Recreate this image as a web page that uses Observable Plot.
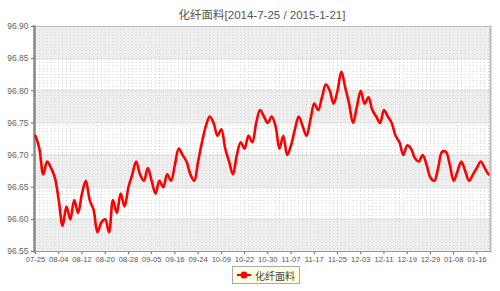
<!DOCTYPE html>
<html>
<head>
<meta charset="utf-8">
<script src="https://cdn.jsdelivr.net/npm/d3@7"></script>
<script src="https://cdn.jsdelivr.net/npm/@observablehq/plot@0.6"></script>
<style>
  html, body { margin: 0; padding: 0; background: #fff; width: 500px; height: 291px; overflow: hidden; }
  #title { height: 20px; line-height: 20px; padding-top: 6px; margin-bottom: -6px; text-align: center; padding-left: 24px;
    font: 11.5px "Liberation Sans", Arial, "Noto Sans CJK SC", sans-serif; color: #555; box-sizing: content-box; }
  #chart svg { display: block; }
  #legend { position: absolute; left: 232px; top: 266px; height: 16px; padding: 0 4px 0 3px;
    border: 1px solid #aaa; background: #ffffe6; display: flex; align-items: center;
    font: 10px "Noto Sans CJK SC", sans-serif; color: #444; }
  #legend svg { margin-right: 3px; }
</style>
</head>
<body>
<div id="title">化纤面料[2014-7-25 / 2015-1-21]</div>
<div id="chart"></div>
<div id="legend"><svg width="16" height="12"><line x1="1" y1="6" x2="15" y2="6" stroke="#ff0000" stroke-width="2"/><circle cx="8" cy="6" r="3.5" fill="#ff0000"/></svg>化纤面料</div>
<script>
const seriesName = "化纤面料";
const tickLabels = ["07-25","08-04","08-12","08-20","08-28","09-05","09-16","09-24","10-09","10-22",
  "10-30","11-07","11-17","11-25","12-03","12-11","12-19","12-29","01-08","01-16"];
const yTicks = [96.55, 96.60, 96.65, 96.70, 96.75, 96.80, 96.85, 96.90];
const values = [
  96.73, 96.71, 96.67, 96.69, 96.68, 96.665, 96.63, 96.59, 96.62, 96.60,
  96.63, 96.61, 96.64, 96.66, 96.63, 96.615, 96.58, 96.595, 96.60, 96.58,
  96.63, 96.61, 96.64, 96.62, 96.65, 96.67, 96.69, 96.67, 96.66, 96.68,
  96.66, 96.64, 96.66, 96.65, 96.67, 96.66, 96.685, 96.71, 96.70, 96.69,
  96.67, 96.66, 96.69, 96.72, 96.745, 96.76, 96.75, 96.73, 96.74, 96.71,
  96.69, 96.67, 96.70, 96.72, 96.71, 96.73, 96.72, 96.75, 96.77, 96.76,
  96.75, 96.76, 96.745, 96.71, 96.73, 96.70, 96.715, 96.74, 96.76, 96.745,
  96.73, 96.755, 96.78, 96.77, 96.79, 96.81, 96.80, 96.78, 96.80, 96.83,
  96.805, 96.78, 96.75, 96.775, 96.80, 96.78, 96.79, 96.77, 96.76, 96.75,
  96.77, 96.76, 96.75, 96.73, 96.72, 96.70, 96.715, 96.71, 96.695, 96.69,
  96.70, 96.685, 96.665, 96.66, 96.68, 96.705, 96.705, 96.685, 96.66, 96.675,
  96.69, 96.675, 96.66, 96.67, 96.68, 96.69, 96.68, 96.67
];
const data = values.map((v, i) => ({i, v}));
const ticksEvery = 6;
const tickIdx = tickLabels.map((_, k) => k * ticksEvery);
const bands = yTicks.slice(0, -1).map((y, k) => ({y1: y, y2: yTicks[k + 1], gray: k % 2 === 0}))
  .filter(d => d.gray);

const plot = Plot.plot({
  width: 500,
  height: 251,
  marginLeft: 34,
  marginRight: 10,
  marginTop: 6,
  marginBottom: 20,
  style: {fontFamily: "'Liberation Sans', Arial, sans-serif", fontSize: "8.5px", color: "#666", background: "transparent"},
  x: {domain: [0, values.length - 1], insetLeft: 1, insetRight: 2},
  y: {domain: [yTicks[0], yTicks[yTicks.length - 1]]},
  marks: [
    Plot.rect(bands, {y1: "y1", y2: "y2", fill: "#efefef"}),
    Plot.ruleY(yTicks, {stroke: "#dddddd", strokeWidth: 1}),
    Plot.ruleX(data, {x: "i", stroke: "#d2d2d2", strokeWidth: 1, strokeDasharray: "1,2"}),
    Plot.axisY({ticks: yTicks, tickFormat: d => d.toFixed(2), tickSize: 3, tickPadding: 3, stroke: "#666", fill: "#666", label: null}),
    Plot.axisX({ticks: tickIdx, tickFormat: i => tickLabels[i / ticksEvery], tickSize: 3, tickPadding: 2, stroke: "#666", fill: "#555", fontSize: 7.6, label: null}),
    Plot.frame({anchor: "top", stroke: "#bbb"}),
    Plot.frame({anchor: "right", stroke: "#bbb", strokeWidth: 2}),
    Plot.frame({anchor: "bottom", stroke: "#999"}),
    Plot.frame({anchor: "left", stroke: "#888", strokeWidth: 2.5}),
    Plot.line(data, {x: "i", y: "v", stroke: "#ff0000", strokeWidth: 2.6, curve: "catmull-rom"})
  ]
});
document.getElementById("chart").appendChild(plot);
</script>
</body>
</html>
